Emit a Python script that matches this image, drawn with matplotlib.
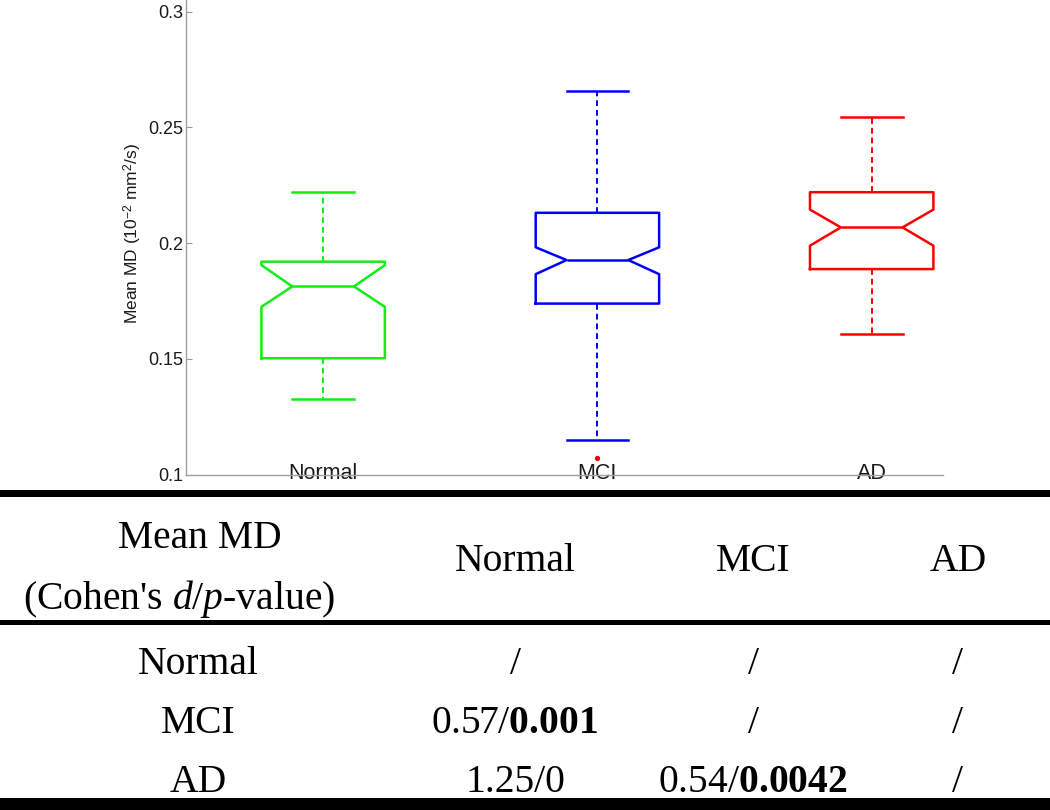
import matplotlib
matplotlib.use("Agg")
import matplotlib.pyplot as plt
from matplotlib.patches import Rectangle

plt.rcParams['font.family'] = ['Liberation Sans', 'DejaVu Sans']
plt.rcParams['mathtext.fontset'] = 'custom'
plt.rcParams['mathtext.rm'] = 'Liberation Serif'
plt.rcParams['mathtext.it'] = 'Liberation Serif:italic'
plt.rcParams['mathtext.bf'] = 'Liberation Serif:bold'
plt.rcParams['mathtext.sf'] = 'Liberation Sans'

# box plot data
groups = ['Normal', 'MCI', 'AD']
colors = ['#11ee11', '#0000ff', '#ff0000']
whislo = [0.1325, 0.1152, 0.1607]
q1 = [0.1503, 0.1739, 0.1888]
med = [0.1813, 0.1927, 0.2068]
q3 = [0.1920, 0.2131, 0.2220]
whishi = [0.2222, 0.2658, 0.2545]
cilo = [0.1725, 0.1866, 0.1989]
cihi = [0.1905, 0.1982, 0.2145]
fliers = [[], [0.1072], []]

# table contents
col_labels = ['Normal', 'MCI', 'AD']
row_labels = ['Normal', 'MCI', 'AD']
cohen_d = [[None, None, None], ['0.57', None, None], ['1.25', '0.54', None]]
p_vals = [[None, None, None], ['0.001', None, None], ['0', '0.0042', None]]
p_bold = [[False, False, False], [True, False, False], [False, True, False]]

W, H = 1050, 810
fig = plt.figure(figsize=(W / 100, H / 100), dpi=100)


def fy(py):
    return 1 - py / H


def fx(px):
    return px / W


# ---- box plot ----
ax = fig.add_axes([fx(186), fy(474.7), fx(943 - 186), 474.7 / H])
for i in range(3):
    stats = [dict(med=med[i], q1=q1[i], q3=q3[i], whislo=whislo[i], whishi=whishi[i],
                  cilo=cilo[i], cihi=cihi[i], fliers=fliers[i])]
    c = colors[i]
    ax.bxp(stats, positions=[i + 1], widths=0.45, shownotches=True, manage_ticks=False,
           boxprops=dict(color=c, linewidth=1.8),
           medianprops=dict(color=c, linewidth=1.8),
           whiskerprops=dict(color=c, linewidth=1.4, linestyle=(0, (3, 2))),
           capprops=dict(color=c, linewidth=1.8),
           flierprops=dict(marker='o', markersize=2.8, markerfacecolor='#ff0000',
                           markeredgecolor='#ff0000'))

ax.set_xlim(0.5, 3.26)
ax.set_ylim(0.1, 0.305)
ax.set_yticks([0.1, 0.15, 0.2, 0.25, 0.3])
ax.set_yticklabels(['0.1', '0.15', '0.2', '0.25', '0.3'])
ax.set_xticks([1, 2, 3])
ax.set_xticklabels(groups)
ax.tick_params(axis='x', length=0, pad=-8.5, labelsize=15.5, labelcolor='#1a1a1a')
ax.tick_params(axis='y', direction='in', length=4, width=0.8, color='#999999', pad=2,
               labelsize=13, labelcolor='#1a1a1a')
for s in ['top', 'right']:
    ax.spines[s].set_visible(False)
for s in ['left', 'bottom']:
    ax.spines[s].set_color('#a0a0a0')
    ax.spines[s].set_linewidth(1.0)
ax.set_ylabel('Mean MD (10$^{\\mathsf{-2}}$ mm$^{\\mathsf{2}}$/s)', fontsize=12.5, color='#1a1a1a')
ax.yaxis.set_label_coords(-0.055, 0.509)

# ---- table ----
serif = 'Liberation Serif'
fs = 28.5


def hline(y0, y1):
    fig.add_artist(Rectangle((0, fy(y1)), 1, (y1 - y0) / H, transform=fig.transFigure,
                             facecolor='black', edgecolor='none'))


hline(490, 497)
hline(620, 625)
hline(798, 810)

fig.text(fx(200), fy(548), 'Mean MD', family=serif, fontsize=fs, ha='center', va='baseline')
fig.text(fx(179), fy(609), "(Cohen's $\\mathit{d}$/$\\mathit{p}$-value)", family=serif,
         fontsize=fs, ha='center', va='baseline')

col_x = [515, 753, 958]
row_y = [674, 733, 792]
for j, lab in enumerate(col_labels):
    fig.text(fx(col_x[j]), fy(570.7), lab, family=serif, fontsize=fs, ha='center', va='baseline')

for i, lab in enumerate(row_labels):
    fig.text(fx(198), fy(row_y[i]), lab, family=serif, fontsize=fs, ha='center', va='baseline')
    for j in range(3):
        if cohen_d[i][j] is None:
            s = '/'
        elif p_bold[i][j]:
            s = cohen_d[i][j] + '/$\\mathbf{' + p_vals[i][j] + '}$'
        else:
            s = cohen_d[i][j] + '/' + p_vals[i][j]
        fig.text(fx(col_x[j]), fy(row_y[i]), s, family=serif, fontsize=fs,
                 ha='center', va='baseline')

fig.savefig('out.png', dpi=100, facecolor='white')
